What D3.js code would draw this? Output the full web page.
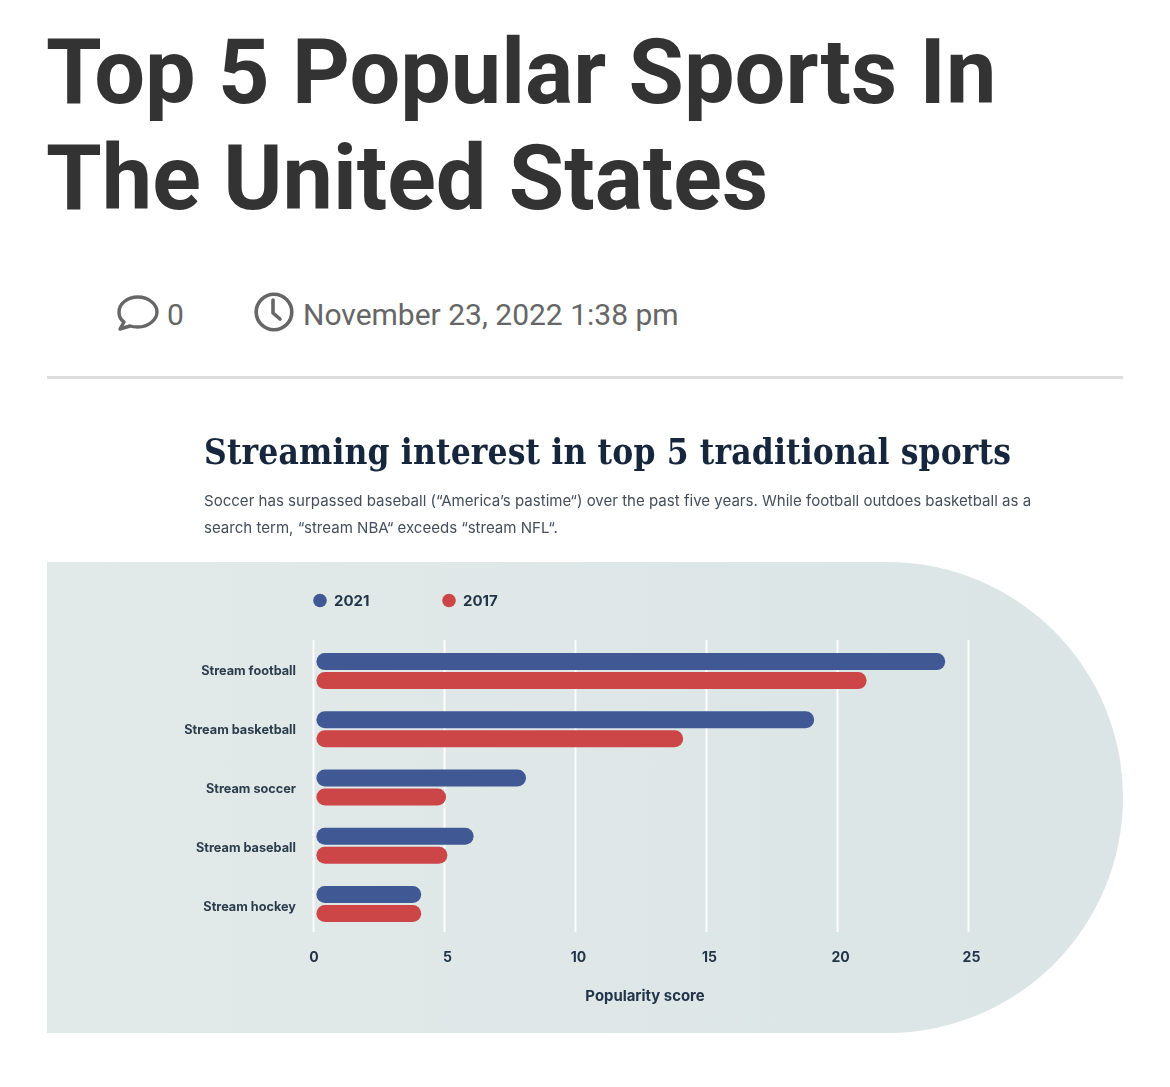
<!DOCTYPE html>
<html>
<head>
<meta charset="utf-8">
<style>
  html, body { margin: 0; padding: 0; background: #fff; }
  svg { display: block; }
</style>
<script src="https://cdn.jsdelivr.net/npm/d3@7"></script>
</head>
<body>
<svg id="page" width="1170" height="1087"></svg>
<script>
// Popularity scores per search term
const categories = ["Stream football", "Stream basketball", "Stream soccer", "Stream baseball", "Stream hockey"];
const values2021 = [24, 19, 8, 6, 4];
const values2017 = [21, 14, 4.95, 5, 4];
const xTicks = [0, 5, 10, 15, 20, 25];
const seriesNames = ["2021", "2017"];
const seriesColors = ["#3f5894", "#cc4547"];

const headline = ["Top 5 Popular Sports In", "The United States"];
const chartTitle = "Streaming interest in top 5 traditional sports";
const chartNotes = [
  "Soccer has surpassed baseball (\u201CAmerica\u2019s pastime\u201C) over the past five years. While football outdoes basketball as a",
  "search term, \u201Cstream NBA\u201C exceeds \u201Cstream NFL\u201C."
];

const svg = d3.select("#page");
const dark = "#333333", grey = "#666666", ink = "#16283c";

const defs = svg.append("defs");
const soft = defs.append("filter").attr("id", "soft")
  .attr("x", 0).attr("y", 0).attr("width", 1170).attr("height", 1087)
  .attr("filterUnits", "userSpaceOnUse");
soft.append("feGaussianBlur").attr("stdDeviation", 0.6);
const panelFill = defs.append("linearGradient").attr("id", "panelFill");
panelFill.append("stop").attr("offset", "0%").attr("stop-color", "#e2e9e9");
panelFill.append("stop").attr("offset", "100%").attr("stop-color", "#dbe5e5");

// Article header
svg.selectAll("text.headline").data(headline).join("text")
  .attr("class", "headline")
  .attr("x", 46).attr("y", (d, i) => 103 + i * 106)
  .attr("font-family", "Roboto").attr("font-weight", 700)
  .attr("font-size", 90).attr("fill", dark)
  .text(d => d);

// Comment bubble icon
svg.append("path")
  .attr("d", "M138 297c-11 0-19 7-19 15 0 4 2 8 5 10l-4 7 10-3c3 1 5 1 8 1 10 0 19-7 19-15s-9-15-19-15z")
  .attr("fill", "none").attr("stroke", grey).attr("stroke-width", 3.4).attr("stroke-linejoin", "round");
svg.append("text").attr("x", 167).attr("y", 325)
  .attr("font-family", "Roboto").attr("font-size", 30).attr("fill", grey).text("0");

// Clock icon
svg.append("circle").attr("cx", 274).attr("cy", 312).attr("r", 17.8)
  .attr("fill", "none").attr("stroke", grey).attr("stroke-width", 3.6);
svg.append("path").attr("d", "M273 300v13l7 6")
  .attr("fill", "none").attr("stroke", grey).attr("stroke-width", 3.6).attr("stroke-linecap", "round").attr("stroke-linejoin", "round");
svg.append("text").attr("x", 303).attr("y", 325)
  .attr("font-family", "Roboto").attr("font-size", 30).attr("fill", grey).text("November 23, 2022 1:38 pm");

svg.append("rect").attr("x", 47).attr("y", 376).attr("width", 1076).attr("height", 3).attr("fill", "#dddddd");

// Embedded graphic, slightly soft as a scaled-up image would be
const graphic = svg.append("g").attr("filter", "url(#soft)");

graphic.append("text").attr("x", 204).attr("y", 464)
  .attr("font-family", "DejaVu Serif Condensed, DejaVu Serif").attr("font-weight", 700)
  .attr("font-size", 35).attr("textLength", 807).attr("fill", ink).text(chartTitle);

graphic.selectAll("text.note").data(chartNotes).join("text")
  .attr("class", "note")
  .attr("x", 204).attr("y", (d, i) => 506 + i * 26.5)
  .attr("font-family", "Inter").attr("font-size", 15.05).attr("fill", "#44505c")
  .text(d => d);

// Panel with a rounded right end
const panel = { left: 47, right: 1123, top: 562, bottom: 1033 };
const radius = (panel.bottom - panel.top) / 2;
graphic.append("path")
  .attr("d", `M${panel.left} ${panel.top}H${panel.right - radius}A${radius} ${radius} 0 0 1 ${panel.right - radius} ${panel.bottom}H${panel.left}Z`)
  .attr("fill", "url(#panelFill)");

const x = d3.scaleLinear().domain([0, 25]).range([313, 968]);
const y = d3.scaleBand().domain(categories).range([642, 933.2]);
const yLabels = d3.scaleBand().domain(categories).range([641.4, 936.4]);
const plotTop = 640, plotBottom = 932;
const barHeight = 17, barGap = 2, barInset = 3.4;

// Vertical gridlines and value labels
const xAxis = d3.axisBottom(x).tickValues(xTicks).tickSize(plotBottom - plotTop).tickPadding(20.5);
const xg = graphic.append("g").attr("transform", `translate(0,${plotTop})`).call(xAxis);
xg.select(".domain").remove();
xg.selectAll(".tick line").attr("stroke", "#ffffff").attr("stroke-width", 1.8);
xg.selectAll(".tick text")
  .attr("dx", d => d === 0 ? 0.5 : 3)
  .attr("font-family", "Inter").attr("font-weight", 700).attr("font-size", 14).attr("fill", "#22344a");

// Category labels
const yg = graphic.append("g").attr("transform", "translate(296,0)")
  .call(d3.axisLeft(yLabels).tickSize(0).tickPadding(0));
yg.select(".domain").remove();
yg.selectAll(".tick text")
  .attr("font-family", "Inter").attr("font-weight", 700).attr("font-size", 12.7).attr("fill", "#2c3c4c");

// Paired bars
[values2021, values2017].forEach((vals, s) => {
  graphic.append("g").selectAll("rect").data(vals).join("rect")
    .attr("x", x(0) + barInset)
    .attr("y", (d, i) => y(categories[i]) + y.bandwidth() / 2 - barHeight - barGap / 2 + s * (barHeight + barGap))
    .attr("width", d => x(d) - x(0))
    .attr("height", barHeight)
    .attr("rx", barHeight / 2)
    .attr("fill", seriesColors[s]);
});

// Legend
const legendX = [320, 449];
const legend = graphic.append("g").selectAll("g").data(seriesNames).join("g")
  .attr("transform", (d, i) => `translate(${legendX[i]},600.5)`);
legend.append("circle").attr("r", 6.8).attr("fill", (d, i) => seriesColors[i]);
legend.append("text").attr("x", 14).attr("y", 5.5)
  .attr("font-family", "Inter").attr("font-weight", 700).attr("font-size", 15).attr("fill", "#22344a")
  .text(d => d);

// Axis title
graphic.append("text").attr("x", 645).attr("y", 1001).attr("text-anchor", "middle")
  .attr("font-family", "Inter").attr("font-weight", 700).attr("font-size", 14.9).attr("fill", "#22344a")
  .text("Popularity score");
</script>
</body>
</html>
